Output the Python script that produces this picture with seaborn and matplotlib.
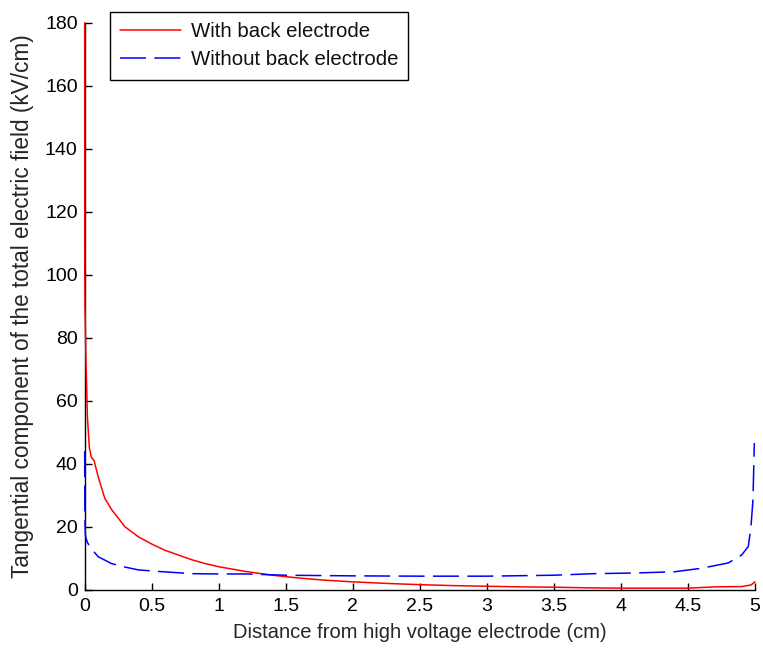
import pandas as pd
import matplotlib
matplotlib.use("Agg")
import matplotlib.pyplot as plt
import seaborn as sns

# Values
x_with = [0, 0.0005, 0.002, 0.01, 0.02, 0.035, 0.05, 0.07, 0.1, 0.15, 0.2, 0.3, 0.4,
          0.5, 0.6, 0.7, 0.8, 0.9, 1.0, 1.2, 1.4, 1.6, 1.8, 2.0, 2.25, 2.5, 2.75,
          3.0, 3.25, 3.5, 3.75, 4.0, 4.25, 4.5, 4.7, 4.9, 4.97, 5.0]
y_with = [180, 103, 90, 72, 55, 45, 42, 41, 36, 29, 25.5, 20, 16.8,
          14.5, 12.5, 11, 9.5, 8.3, 7.3, 5.8, 4.6, 3.7, 3.0, 2.5, 2.0, 1.6, 1.3,
          1.1, 0.9, 0.8, 0.6, 0.5, 0.5, 0.5, 0.9, 1.0, 1.5, 2.5]

x_without = [0, 0.001, 0.003, 0.006, 0.02, 0.05, 0.1, 0.2, 0.3, 0.4, 0.55, 0.8, 1.0,
             1.2, 1.5, 2.0, 2.5, 3.0, 3.5, 3.8, 4.1, 4.4, 4.6, 4.8, 4.9, 4.95,
             4.97, 4.985, 4.995]
y_without = [44, 27, 20, 17, 15, 13, 10.5, 8.3, 7.2, 6.3, 5.8, 5.1, 5.0,
             5.0, 4.6, 4.4, 4.3, 4.3, 4.6, 5.1, 5.3, 5.7, 6.8, 8.5, 11, 13.7,
             20, 28.5, 46.6]

x_ticks = [0, 0.5, 1, 1.5, 2, 2.5, 3, 3.5, 4, 4.5, 5]
x_tick_labels = ["0", "0.5", "1", "1.5", "2", "2.5", "3", "3.5", "4", "4.5", "5"]
y_ticks = [0, 20, 40, 60, 80, 100, 120, 140, 160, 180]


def main():
    sns.set_style("ticks")
    plt.rcParams["font.family"] = ["Liberation Sans", "DejaVu Sans"]
    plt.rcParams["text.color"] = "#111111"

    df_with = pd.DataFrame({"x": x_with, "y": y_with})
    df_without = pd.DataFrame({"x": x_without, "y": y_without})

    fig = plt.figure(figsize=(7.63, 6.54), dpi=100)
    ax = fig.add_axes([0.111, 0.0983, 0.8785, 0.8667])

    sns.lineplot(data=df_with, x="x", y="y", color="red", linewidth=1.1,
                 sort=False, estimator=None, ax=ax, label="With back electrode")
    sns.lineplot(data=df_without, x="x", y="y", color="blue", linewidth=1.1,
                 sort=False, estimator=None, ax=ax, label="Without back electrode")
    ax.lines[1].set_dashes((17, 5.5))
    for ln in ax.lines:
        ln.set_zorder(3)
        ln.set_clip_on(False)

    ax.set_xlim(0, 5)
    ax.set_ylim(0, 180)
    ax.set_xticks(x_ticks)
    ax.set_xticklabels(x_tick_labels)
    ax.set_yticks(y_ticks)
    ax.tick_params(direction="in", length=5, width=1, colors="black",
                   labelsize=14)
    ax.tick_params(axis="x", pad=6)
    ax.tick_params(axis="y", pad=5)
    sns.despine(ax=ax)
    for s in ["left", "bottom"]:
        ax.spines[s].set_color("black")
        ax.spines[s].set_linewidth(1)

    ax.set_xlabel("Distance from high voltage electrode (cm)", fontsize=14.5,
                  labelpad=6)
    ax.set_ylabel("Tangential component of the total electric field (kV/cm)",
                  fontsize=16.3, labelpad=8)

    leg = ax.legend(loc="upper left", bbox_to_anchor=(0.1442, 0.9817),
                    bbox_transform=fig.transFigure, borderaxespad=0,
                    frameon=True, fancybox=False, shadow=False,
                    handlelength=3.0, handletextpad=0.45, borderpad=0.5,
                    labelspacing=0.45, fontsize=14.7)
    leg.get_frame().set_edgecolor("black")
    leg.get_frame().set_linewidth(1)
    leg.get_frame().set_alpha(1)
    leg.set_zorder(5)

    fig.savefig("out.png", dpi=100)


if __name__ == "__main__":
    main()
